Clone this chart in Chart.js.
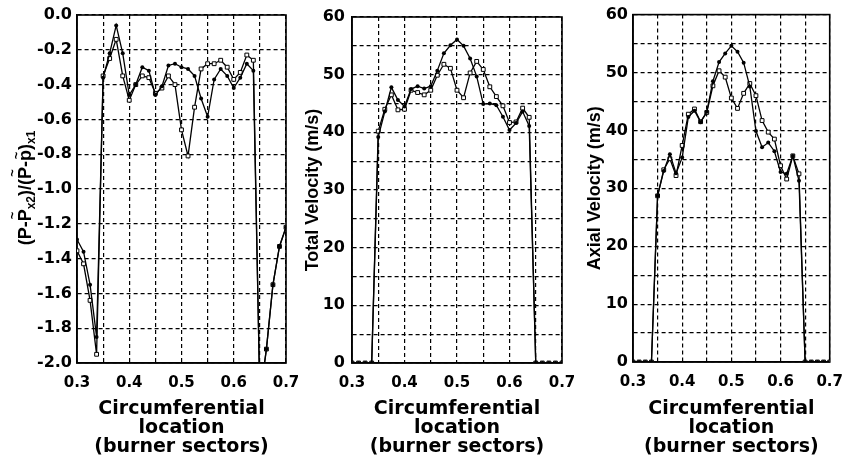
<!DOCTYPE html>
<html>
<head>
<meta charset="utf-8">
<script src="https://cdn.jsdelivr.net/npm/chart.js@4.4.1/dist/chart.umd.min.js"></script>
<style>
  body { margin: 0; background: #fff; }
  #wrap { position: relative; width: 854px; height: 470px; }
  canvas { position: absolute; left: 0; top: 0; }
</style>
</head>
<body>
<div id="wrap">
  <canvas id="pressure" width="854" height="470"></canvas>
  <canvas id="total" width="854" height="470"></canvas>
  <canvas id="axial" width="854" height="470"></canvas>
</div>
<script>
// probe positions (burner sectors)
const location_x = [0.3, 0.3125, 0.325, 0.3375, 0.35, 0.3625, 0.375, 0.3875, 0.4, 0.4125, 0.425,
    0.4375, 0.45, 0.4625, 0.475, 0.4875, 0.5, 0.5125, 0.525, 0.5375, 0.55, 0.5625, 0.575,
    0.5875, 0.6, 0.6125, 0.625, 0.6375, 0.65, 0.6625, 0.675, 0.6875, 0.7];

// pressure ratio
const pressure_filled = [-1.29, -1.36, -1.55, -1.85,
    -0.36, -0.22, -0.06, -0.22, -0.46, -0.40, -0.30, -0.32, -0.46, -0.41, -0.29, -0.28,
    -0.30, -0.31, -0.35, -0.48, -0.585, -0.37, -0.31, -0.35, -0.42, -0.36, -0.28, -0.32,
    -2.2, -1.92, -1.55, -1.33, -1.22];
const pressure_open = [-1.355, -1.43, -1.64, -1.95,
    -0.35, -0.25, -0.14, -0.35, -0.49, -0.40, -0.35, -0.36, -0.45, -0.42, -0.35, -0.40,
    -0.66, -0.81, -0.53, -0.31, -0.28, -0.28, -0.26, -0.30, -0.37, -0.33, -0.23, -0.26,
    -2.2, -1.92, -1.55, -1.33, -1.22];

// total velocity (m/s)
const total_filled = [0, 0, 0, 0,
    39.2, 43.6, 47.8, 45.6, 44.5, 47.5, 48.0, 47.6, 48.0, 50.7, 53.7, 55.1,
    56.1, 55.0, 52.8, 49.7, 44.9, 45.0, 44.7, 42.7, 40.4, 41.6, 43.6, 41.1,
    0, 0, 0, 0, 0];
const total_open = [0, 0, 0, 0,
    40.2, 44.0, 46.5, 43.9, 44.0, 47.3, 46.9, 46.5, 47.3, 49.9, 51.8, 51.1,
    47.3, 46.0, 50.3, 52.3, 50.9, 47.9, 46.2, 44.6, 41.7, 41.8, 44.2, 42.6,
    0, 0, 0, 0, 0];

// axial velocity (m/s)
const axial_filled = [0, 0, 0, 0,
    28.7, 33.0, 35.9, 32.6, 35.3, 42.3, 43.4, 41.4, 43.2, 48.5, 51.8, 53.3,
    54.6, 53.6, 51.7, 47.6, 39.9, 37.1, 37.9, 36.4, 32.8, 32.5, 35.6, 31.3,
    0, 0, 0, 0, 0];
const axial_open = [0, 0, 0, 0,
    28.7, 33.2, 35.1, 32.2, 37.4, 42.8, 43.7, 41.5, 43.1, 47.7, 50.3, 49.2,
    45.6, 43.8, 46.4, 48.1, 46.0, 41.7, 39.7, 38.5, 33.9, 31.6, 35.6, 32.5,
    0, 0, 0, 0, 0];

const x_title = ['Circumferential', 'location', '(burner sectors)'];

function points(ys) {
    return location_x.map((x, i) => ({ x: x, y: ys[i] }));
}

function filledSet(ys) {
    return {
        data: points(ys), borderColor: '#000', borderWidth: 1.3,
        pointStyle: 'circle', pointRadius: 2, backgroundColor: '#000', pointBorderWidth: 0
    };
}

function openSet(ys) {
    return {
        data: points(ys), borderColor: '#000', borderWidth: 1.3,
        pointStyle: 'rect', pointRadius: 2.7, backgroundColor: '#fff', pointBorderWidth: 1
    };
}

// solid box round the plot, under the markers
const frame = {
    id: 'frame',
    beforeDatasetsDraw(chart) {
        const a = chart.chartArea;
        const c = chart.ctx;
        c.save();
        c.strokeStyle = '#000';
        c.lineWidth = 1.6;
        c.strokeRect(a.left, a.top, a.right - a.left, a.bottom - a.top);
        c.restore();
    }
};

function makeChart(id, datasets, opt) {
    const grid = { color: '#000', lineWidth: 1.2, drawTicks: false };
    const border = { color: '#000', width: 1.6, dash: [4, 3] };
    return new Chart(document.getElementById(id), {
        type: 'line',
        data: { datasets: datasets },
        plugins: [frame].concat(opt.plugins || []),
        options: {
            animation: false,
            responsive: false,
            devicePixelRatio: 1,
            layout: { padding: opt.padding },
            plugins: { legend: { display: false }, tooltip: { enabled: false } },
            scales: {
                x: {
                    type: 'linear', min: 0.3, max: 0.7,
                    grid: grid, border: border,
                    afterFit(s) { s.height = opt.xHeight; },
                    ticks: {
                        stepSize: 0.05, autoSkip: false, maxRotation: 0, padding: 11, color: '#000',
                        font: { family: 'DejaVu Sans', weight: 'bold', size: 15 },
                        callback: v => Math.abs(v * 10 - Math.round(v * 10)) < 1e-6 ? v.toFixed(1) : ''
                    },
                    title: {
                        display: true, text: x_title, color: '#000',
                        font: { family: 'DejaVu Sans', weight: 'bold', size: 19, lineHeight: '19px' },
                        padding: { top: 0, bottom: 13 }
                    }
                },
                y: {
                    min: opt.yMin, max: opt.yMax,
                    grid: grid, border: border,
                    afterFit(s) { s.width = opt.yWidth; },
                    ticks: {
                        stepSize: opt.yStep, autoSkip: false, padding: opt.yPad, color: '#000',
                        font: { family: 'DejaVu Sans', weight: 'bold', size: 16 },
                        callback: opt.yLabel
                    },
                    title: opt.yTitle ? {
                        display: true, text: opt.yTitle, color: '#000',
                        font: { family: 'Liberation Sans', weight: 'bold', size: 18, lineHeight: '18px' },
                        padding: { top: opt.yTitlePad, bottom: 0 }
                    } : { display: false }
                }
            }
        }
    });
}

// rotated y title with tildes and subscripts for the pressure panel
const pressureTitle = {
    id: 'pressureTitle',
    afterDraw(chart) {
        const c = chart.ctx;
        const runs = [
            { t: '(P-' }, { t: 'P', tilde: true }, { t: 'x2', sub: true },
            { t: ')/(' }, { t: 'P', tilde: true }, { t: '-' }, { t: 'p', tilde: true },
            { t: ')' }, { t: 'x1', sub: true }
        ];
        const big = 'bold 18px "Liberation Sans"';
        const small = 'bold 12px "Liberation Sans"';
        let total = 0;
        runs.forEach(r => { c.font = r.sub ? small : big; r.w = c.measureText(r.t).width; total += r.w; });
        c.save();
        c.translate(25, 188);
        c.rotate(-Math.PI / 2);
        c.fillStyle = '#000';
        c.textBaseline = 'alphabetic';
        let x = -total / 2;
        runs.forEach(r => {
            c.font = r.sub ? small : big;
            c.fillText(r.t, x, r.sub ? 10 : 6);
            if (r.tilde) {
                c.font = 'bold 13px "Liberation Sans"';
                const tw = c.measureText('~').width;
                c.fillText('~', x + (r.w - tw) / 2, r.t === 'p' ? -4 : -8);
            }
            x += r.w;
        });
        c.restore();
    }
};

makeChart('pressure', [filledSet(pressure_filled), openSet(pressure_open)], {
    padding: { left: 17, right: 568, top: 15, bottom: 0 },
    xHeight: 107, yWidth: 60, yPad: 5,
    yMin: -2, yMax: 0, yStep: 0.2,
    yLabel: v => v.toFixed(1),
    plugins: [pressureTitle]
});

makeChart('total', [filledSet(total_filled), openSet(total_open)], {
    padding: { left: 297, right: 292, top: 17, bottom: 0 },
    xHeight: 107, yWidth: 55, yPad: 7,
    yMin: 0, yMax: 60, yStep: 5,
    yLabel: v => v % 10 === 0 ? String(v) : '',
    yTitle: 'Total Velocity (m/s)', yTitlePad: 7
});

makeChart('axial', [filledSet(axial_filled), openSet(axial_open)], {
    padding: { left: 578, right: 15, top: 13, bottom: 0 },
    xHeight: 108, yWidth: 55, yPad: 5,
    yMin: 0, yMax: 60, yStep: 5,
    yLabel: v => v % 10 === 0 ? String(v) : '',
    yTitle: 'Axial Velocity (m/s)', yTitlePad: 8
});
</script>
</body>
</html>
